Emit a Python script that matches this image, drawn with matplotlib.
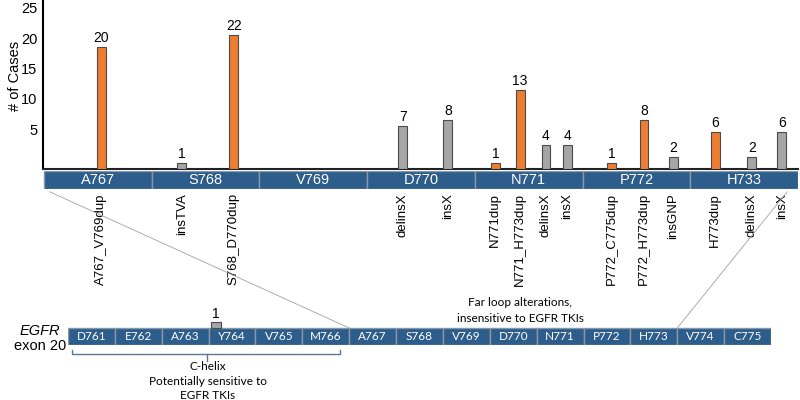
import matplotlib
matplotlib.use("Agg")
import matplotlib.pyplot as plt
import matplotlib.transforms as mtransforms
from matplotlib.patches import ConnectionPatch

# data
mutations = ["A767_V769dup", "insTVA", "S768_D770dup", "delinsX", "insX",
             "N771dup", "N771_H773dup", "delinsX", "insX",
             "P772_C775dup", "P772_H773dup", "insGNP",
             "H773dup", "delinsX", "insX"]
cases = [20, 1, 22, 7, 8, 1, 13, 4, 4, 1, 8, 2, 6, 2, 6]
domain_residues = ["A767", "S768", "V769", "D770", "N771", "P772", "H733"]
exon_residues = ["D761", "E762", "A763", "Y764", "V765", "M766", "A767", "S768",
                 "V769", "D770", "N771", "P772", "H773", "V774", "C775"]
exon_cases = [1]          # one case on Y764
y_ticks = [5, 10, 15, 20, 25]

# layout: where each mutation sits along the residue strip
bar_x = [0.53, 1.28, 1.76, 3.33, 3.75, 4.19, 4.42, 4.66, 4.86,
         5.27, 5.57, 5.84, 6.23, 6.57, 6.85]
exon_bar_x = [3.16]

ORANGE = "#ED7D31"
GREY = "#A6A6A6"
BLUE = "#2C5D8B"
BLUE_EDGE = "#8797A8"

plt.rcParams["font.family"] = ["Liberation Sans", "DejaVu Sans"]
W, H = 800, 400
fig = plt.figure(figsize=(8, 4), dpi=100)
px_per_case = 6.1


def px_axes(left, top, right, bottom):
    return fig.add_axes([left / W, 1 - bottom / H, (right - left) / W, (bottom - top) / H])


# ---- bar chart ----
ax = px_axes(43, 0, 798, 169)
colors = [ORANGE if m.endswith("dup") else GREY for m in mutations]
ax.bar(bar_x, cases, width=0.083, color=colors, edgecolor="#4a4a4a", linewidth=0.8, zorder=3)
for x, v in zip(bar_x, cases):
    ax.annotate(str(v), (x, v), xytext=(0, 1.5), textcoords="offset points",
                ha="center", va="bottom", fontsize=10)
ax.set_xlim(-0.01, 7)
ax.set_ylim(0, 169 / px_per_case)
ax.set_yticks(y_ticks)
ax.set_xticks([])
ax.tick_params(axis="y", length=0, pad=4, labelsize=10.5)
for lab in ax.get_yticklabels():
    lab.set_transform(lab.get_transform() +
                      mtransforms.ScaledTranslation(0, 0.09, fig.dpi_scale_trans))
for s in ["top", "right"]:
    ax.spines[s].set_visible(False)
ax.spines["left"].set_linewidth(1.5)
ax.spines["bottom"].set_linewidth(1.5)
ax.spines["bottom"].set_color("#222222")
fig.text(15 / W, 1 - 76 / H, "# of Cases", rotation=90, ha="center", va="center", fontsize=10.5)

# ---- residue strip under the bars ----
strip = px_axes(43, 171, 798, 189)
strip.bar([i + 0.5 for i in range(len(domain_residues))], 1, width=1,
          color=BLUE, edgecolor=BLUE_EDGE, linewidth=1)
for i, r in enumerate(domain_residues):
    strip.text(i + 0.5, 0.48, r, color="white", ha="center", va="center", fontsize=10.5)
strip.set_xlim(-0.01, 7)
strip.set_ylim(0, 1)
strip.axis("off")
for x, m in zip(bar_x, mutations):
    strip.annotate(m, (x, 0), xycoords=("data", "axes fraction"), xytext=(0, -3),
                   textcoords="offset points", rotation=90, ha="center", va="top",
                   fontsize=9.5)

# ---- exon 20 strip ----
exon = px_axes(68, 300, 771, 345)
strip_h = 17 / px_per_case
exon.bar([i + 0.5 for i in range(len(exon_residues))], strip_h, bottom=-strip_h, width=1,
         color=BLUE, edgecolor=BLUE_EDGE, linewidth=1)
for i, r in enumerate(exon_residues):
    exon.text(i + 0.5, -strip_h / 2, r, color="white", ha="center", va="center",
              fontsize=8.5, family="Lato")
exon.bar(exon_bar_x, exon_cases, width=0.21, color=GREY, edgecolor="#4a4a4a", linewidth=0.8)
for x, v in zip(exon_bar_x, exon_cases):
    exon.annotate(str(v), (x, v), xytext=(0, 1), textcoords="offset points",
                  ha="center", va="bottom", fontsize=10)
exon.set_xlim(0, 15)
exon.set_ylim(-strip_h, 45 / px_per_case - strip_h)
exon.axis("off")

# zoom lines between the strips
for xa, xb in [(0.05, 6), (6.9, 13)]:
    con = ConnectionPatch(xyA=(xa, -0.15), coordsA=strip.transData,
                          xyB=(xb, 0), coordsB=exon.transData,
                          color="#a0a0a0", linewidth=0.6)
    fig.add_artist(con)

# ---- annotations in pixel space ----
ov = fig.add_axes([0, 0, 1, 1])
ov.set_xlim(0, W)
ov.set_ylim(H, 0)
ov.axis("off")
ov.patch.set_visible(False)
bc = "#5A7896"
ov.plot([72, 72, 340, 340], [350, 353.5, 353.5, 350], color=bc, lw=1)
ov.plot([207, 207], [353.5, 361], color=bc, lw=1)
ov.text(208, 361, "C-helix\nPotentially sensitive to\nEGFR TKIs", ha="center", va="top",
        fontsize=8.5, family="Lato", linespacing=1.4)
ov.text(520, 297, "Far loop alterations,\ninsensitive to EGFR TKIs", ha="center", va="top",
        fontsize=8.5, family="Lato", linespacing=1.5)
ov.text(40, 331, "EGFR", ha="center", va="center", fontsize=10.5, style="italic")
ov.text(40, 346, "exon 20", ha="center", va="center", fontsize=10.5)

fig.savefig("out.png", dpi=100)
